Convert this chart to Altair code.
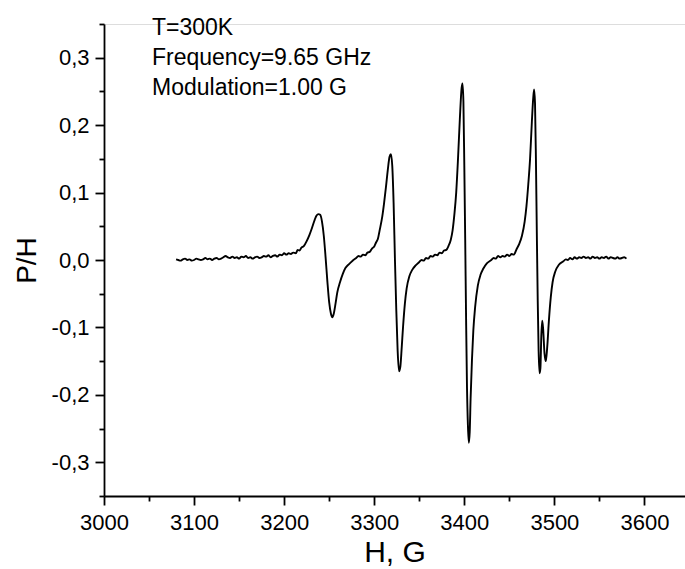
import altair as alt
import pandas as pd

# Magnetic field H (G) and signal P/H
H = [3080, 3082.5, 3085, 3087.5, 3090, 3092.5, 3095, 3097.5, 3100, 3102.5, 3105, 3107.5,
     3110, 3112.5, 3115, 3117.5, 3120, 3122.5, 3125, 3127.5, 3130, 3132.5, 3135, 3137.5,
     3140, 3142.5, 3145, 3147.5, 3150, 3152.5, 3155, 3157.5, 3160, 3162.5, 3165, 3167.5,
     3170, 3172.5, 3175, 3177.5, 3180, 3182.5, 3185, 3187.5, 3190, 3192.5, 3195, 3197.5,
     3200, 3202.5, 3205, 3207.5, 3210, 3213, 3215, 3217, 3219, 3222, 3225, 3228, 3231,
     3234, 3236, 3238, 3240, 3242, 3244, 3246, 3248, 3250, 3252, 3253.5, 3255, 3257, 3259,
     3262, 3265, 3268, 3272, 3276, 3280, 3282.5, 3285, 3287.5, 3290, 3292.5, 3295, 3297.5,
     3300, 3302, 3304, 3306, 3309, 3311, 3313, 3315, 3317, 3318.5, 3320, 3321.5, 3323,
     3324.5, 3326, 3327.5, 3329, 3330.5, 3332, 3334, 3336, 3339, 3342, 3346, 3350, 3352.5,
     3355, 3357.5, 3360, 3362.5, 3365, 3367.5, 3370, 3372.5, 3375, 3377.5, 3380, 3382.5,
     3385, 3387, 3389, 3391, 3393, 3395, 3397, 3398, 3399, 3400, 3401, 3402, 3403, 3404,
     3405, 3406, 3407, 3408.5, 3410, 3412, 3415, 3418, 3421, 3425, 3430, 3432.5, 3435,
     3437.5, 3440, 3442.5, 3445, 3447.5, 3450, 3452.5, 3455, 3458, 3461, 3464, 3467, 3469,
     3471, 3473, 3475, 3476.5, 3477.5, 3478.5, 3479.5, 3480.5, 3481.5, 3482.5, 3483.5,
     3484.5, 3485.5, 3486.5, 3487.5, 3489, 3490.5, 3492, 3494, 3496, 3498, 3501, 3505,
     3510, 3512.5, 3515, 3517.5, 3520, 3522.5, 3525, 3527.5, 3530, 3532.5, 3535, 3537.5,
     3540, 3542.5, 3545, 3547.5, 3550, 3552.5, 3555, 3557.5, 3560, 3562.5, 3565, 3567.5,
     3570, 3572.5, 3575, 3577.5, 3580]
P = [0.001, 0.000, -0.001, 0.001, 0.002, 0.000, 0.001, -0.001, 0.000, 0.002, 0.001, 0.000,
     0.001, 0.003, 0.001, 0.002, 0.000, 0.002, 0.003, 0.001, 0.002, 0.004, 0.006, 0.004,
     0.003, 0.005, 0.003, 0.004, 0.002, 0.005, 0.004, 0.006, 0.003, 0.004, 0.002, 0.004,
     0.005, 0.003, 0.004, 0.006, 0.005, 0.007, 0.004, 0.006, 0.007, 0.005, 0.008, 0.007,
     0.010, 0.008, 0.010, 0.009, 0.011, 0.010, 0.015, 0.014, 0.018, 0.021, 0.028, 0.037,
     0.048, 0.060, 0.066, 0.068, 0.067, 0.057, 0.036, 0.004, -0.032, -0.063, -0.080,
     -0.085, -0.080, -0.065, -0.048, -0.033, -0.021, -0.012, -0.006, -0.001, 0.003, 0.006,
     0.005, 0.008, 0.007, 0.011, 0.012, 0.017, 0.020, 0.026, 0.031, 0.044, 0.065, 0.085,
     0.108, 0.133, 0.153, 0.157, 0.140, 0.085, 0.000, -0.075, -0.135, -0.165, -0.158,
     -0.130, -0.099, -0.065, -0.042, -0.024, -0.015, -0.008, -0.003, 0.000, -0.001, 0.003,
     0.002, 0.006, 0.005, 0.008, 0.007, 0.011, 0.010, 0.014, 0.015, 0.021, 0.030, 0.044,
     0.068, 0.100, 0.150, 0.208, 0.255, 0.262, 0.235, 0.140, 0.030, -0.090, -0.190, -0.245,
     -0.271, -0.255, -0.205, -0.148, -0.105, -0.070, -0.038, -0.022, -0.013, -0.005, 0.000,
     0.003, 0.002, 0.006, 0.004, 0.006, 0.005, 0.008, 0.006, 0.009, 0.008, 0.016, 0.024,
     0.036, 0.057, 0.080, 0.112, 0.150, 0.205, 0.240, 0.253, 0.232, 0.150, 0.040, -0.060,
     -0.135, -0.168, -0.160, -0.112, -0.090, -0.102, -0.138, -0.150, -0.130, -0.088,
     -0.055, -0.033, -0.017, -0.007, -0.002, 0.001, 0.000, 0.003, 0.001, 0.004, 0.002,
     0.004, 0.003, 0.005, 0.003, 0.004, 0.002, 0.005, 0.003, 0.004, 0.002, 0.004, 0.003,
     0.005, 0.002, 0.004, 0.003, 0.002, 0.004, 0.002, 0.003, 0.004, 0.002]

x_tick_values = [3000, 3050, 3100, 3150, 3200, 3250, 3300, 3350, 3400, 3450, 3500, 3550, 3600]
y_tick_values = [-0.35, -0.3, -0.25, -0.2, -0.15, -0.1, -0.05, 0.0, 0.05, 0.1, 0.15, 0.2,
                 0.25, 0.3, 0.35]
annotation_lines = ["T=300K", "Frequency=9.65 GHz", "Modulation=1.00 G"]

df = pd.DataFrame({"H": H, "P": P})
FONT = "Liberation Sans"

x_axis = alt.Axis(
    values=x_tick_values,
    format="d",
    labelExpr="datum.value % 100 === 0 ? datum.label : ''",
    tickSize={"condition": {"test": "datum.value % 100 === 0", "value": 9}, "value": 5},
    title="H, G",
    titleFontSize=30,
    titleFont=FONT,
    titleFontWeight="normal",
    titleColor="black",
    titlePadding=4,
    labelFont=FONT,
    labelFontSize=22,
    labelColor="black",
    labelPadding=7,
    labelOverlap=False,
    labelFlush=False,
    grid=False,
    domainColor="black",
    domainWidth=1.8,
    tickColor="black",
    tickWidth=1.8,
)

y_axis = alt.Axis(
    values=y_tick_values,
    labelExpr="abs(round(datum.value * 20)) % 2 === 1 ? '' : "
              "(datum.value < -0.01 ? '-' : '') + replace(format(abs(datum.value), '.1f'), '.', ',')",
    tickSize={"condition": {"test": "abs(round(datum.value * 20)) % 2 === 0", "value": 9},
              "value": 5},
    title="P/H",
    titleFontSize=28,
    titleFont=FONT,
    titleFontWeight="normal",
    titleColor="black",
    titlePadding=10,
    labelFont=FONT,
    labelFontSize=22,
    labelColor="black",
    labelPadding=6,
    labelOverlap=False,
    labelFlush=False,
    grid=False,
    domainColor="black",
    domainWidth=1.8,
    tickColor="black",
    tickWidth=1.8,
)

line = alt.Chart(df).mark_line(color="black", strokeWidth=1.9, interpolate="monotone").encode(
    x=alt.X("H:Q", scale=alt.Scale(domain=[3000, 3645], nice=False, zero=False), axis=x_axis),
    y=alt.Y("P:Q", scale=alt.Scale(domain=[-0.35, 0.35], nice=False, zero=False), axis=y_axis),
)

ann = alt.Chart(pd.DataFrame({"t": ["\n".join(annotation_lines)]})).mark_text(
    align="left", baseline="alphabetic", font=FONT, fontSize=23, lineHeight=30, color="black",
    lineBreak="\n",
).encode(
    text="t:N",
    x=alt.value(48),
    y=alt.value(11),
)

chart = (line + ann).properties(
    width=581,
    height=472,
    autosize=alt.AutoSizeParams(type="none"),
    padding={"left": 104, "top": 24, "right": 0, "bottom": 73},
).configure_view(stroke=None).configure(background="white")

chart.save("out.html", embed_options={"renderer": "svg", "actions": False})
